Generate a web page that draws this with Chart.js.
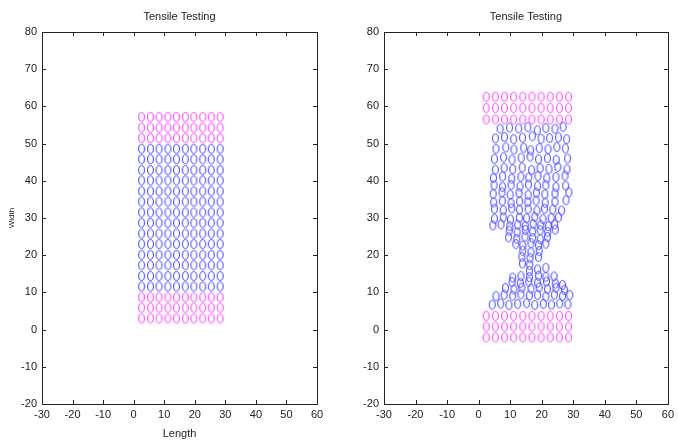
<!DOCTYPE html>
<html>
<head>
<meta charset="utf-8">
<script src="https://cdn.jsdelivr.net/npm/chart.js@4.4.0/dist/chart.umd.min.js"></script>
<style>
  body { margin: 0; background: #fff; }
  #wrap { position: relative; width: 678px; height: 441px; }
  canvas { position: absolute; top: 0; }
</style>
</head>
<body>
<div id="wrap">
  <canvas id="kiri" width="340" height="441" style="left:0"></canvas>
  <canvas id="kanan" width="338" height="441" style="left:340px"></canvas>
</div>
<script>
// ---- data ----
const xTicks = [-30, -20, -10, 0, 10, 20, 30, 40, 50, 60];
const yTicks = [-20, -10, 0, 10, 20, 30, 40, 50, 60, 70, 80];

// left plot: undeformed lattice
const kolom = [2.6, 5.5, 8.3, 11.2, 14.0, 16.9, 19.7, 22.6, 25.4, 28.3];
const barisMagenta = [3.0, 5.9, 8.7, 51.5, 54.3, 57.2];
const barisBiru = [11.6, 14.4, 17.3, 20.1, 23.0, 25.8, 28.7, 31.5, 34.4, 37.2, 40.1, 42.9, 45.8, 48.6];

// right plot: grips and deformed specimen
const kolomKanan = [2.4, 5.3, 8.2, 11.1, 14.0, 16.9, 19.8, 22.7, 25.6, 28.5];
const barisMagentaKanan = [-2.1, 0.8, 3.7, 56.5, 59.6, 62.6];
const biruX = [
  6.8, 9.8, 12.7, 15.6, 18.6, 21.3, 24.2, 26.8,
  5.3, 8.2, 11.1, 13.9, 17.0, 19.8, 22.5, 25.3, 27.9,
  5.5, 8.6, 11.2, 14.3, 16.5, 19.2, 22.0, 24.8, 27.5,
  5.0, 7.9, 10.6, 13.5, 16.3, 19.0, 21.8, 24.6, 28.2,
  5.3, 8.1, 10.8, 13.8, 16.8, 19.5, 22.3, 25.1, 28.0,
  4.7, 7.6, 10.5, 13.4, 15.9, 18.8, 21.6, 24.5, 27.4,
  4.9, 7.6, 10.3, 13.1, 15.8, 18.7, 21.3, 24.5, 27.6,
  4.6, 7.4, 10.0, 12.8, 15.7, 18.3, 21.0, 24.2, 28.6,
  4.8, 7.5, 10.3, 13.0, 15.6, 18.2, 21.1, 24.2, 27.7,
  5.0, 7.8, 10.5, 12.9, 15.7, 18.5, 20.9, 23.5, 26.3,
  5.0, 7.8, 10.1, 12.9, 15.2, 17.8, 20.4, 23.0, 25.3,
  4.5, 7.1, 9.9, 12.4, 14.8, 17.3, 19.7, 22.1, 24.1,
  9.7, 12.2, 14.8, 17.1, 19.5, 21.9, 24.3,
  9.5, 12.1, 14.7, 17.1, 19.5, 21.8,
  11.8, 14.0, 16.6, 19.0, 21.3,
  14.0, 16.6, 19.2,
  13.7, 16.3, 19.0,
  13.9, 16.2,
  16.1, 18.7, 21.3,
  10.8, 13.4, 16.1, 19.0, 21.3, 23.9,
  10.6, 13.2, 15.9, 18.7, 21.5, 24.3, 26.6,
  8.5, 11.2, 13.7, 16.6, 19.2, 21.8, 24.5, 27.2,
  5.5, 8.1, 10.8, 13.4, 16.1, 18.7, 21.3, 24.0, 26.6, 28.9,
  4.3, 7.0, 9.6, 12.4, 15.2, 17.8, 20.5, 23.1, 25.7, 28.3
];
const biruY = [
  54.0, 54.3, 54.1, 54.4, 53.6, 54.2, 54.0, 54.5,
  51.4, 51.8, 51.2, 51.6, 52.0, 51.3, 51.5, 51.7, 51.2,
  48.6, 49.0, 48.4, 48.9, 48.2, 48.8, 48.5, 49.1, 48.7,
  45.9, 46.3, 45.7, 46.2, 46.5, 45.8, 46.1, 45.6, 46.0,
  43.0, 43.5, 43.1, 43.6, 42.9, 43.4, 43.2, 43.7, 43.1,
  40.8, 41.2, 40.6, 41.1, 40.9, 41.3, 40.7, 41.0, 41.4,
  38.8, 38.4, 38.9, 38.5, 39.0, 38.6, 38.9, 38.3, 38.7,
  36.5, 36.9, 36.3, 36.7, 36.2, 36.8, 36.4, 36.6, 36.9,
  34.2, 34.6, 34.0, 34.5, 34.3, 34.7, 34.1, 34.4, 34.8,
  32.5, 32.1, 32.6, 32.2, 32.4, 32.0, 32.5, 32.3, 32.0,
  29.8, 30.2, 29.6, 30.1, 29.9, 30.3, 29.7, 30.0, 30.2,
  28.0, 28.3, 27.8, 28.2, 27.9, 28.4, 28.1, 27.8, 28.3,
  26.6, 26.2, 26.8, 26.4, 26.7, 26.3, 26.9,
  24.8, 24.4, 25.0, 24.6, 24.3, 24.9,
  23.0, 22.6, 23.2, 22.7, 23.1,
  21.2, 20.8, 21.1,
  19.6, 19.2, 19.5,
  17.8, 17.4,
  15.8, 16.2, 16.6,
  14.0, 14.4, 14.1, 14.5, 14.2, 14.3,
  12.8, 12.5, 12.9, 12.6, 12.9, 12.4, 12.0,
  11.2, 10.8, 11.3, 11.0, 11.4, 10.9, 11.2, 10.7,
  9.0, 9.4, 9.1, 9.5, 9.2, 9.3, 8.9, 9.4, 9.0, 9.3,
  6.7, 7.0, 6.6, 6.9, 7.1, 6.6, 6.9, 6.7, 7.0, 6.8
];

const MAGENTA = "#ff33ff";
const BIRU = "#3c3cff";
const FONT = "'Liberation Sans Narrow', 'Arial Narrow', 'Liberation Sans', Arial, sans-serif";

// ---- helpers ----
function grid(xs, ys) {
  const out = [];
  ys.forEach(y => xs.forEach(x => out.push({ x: x, y: y })));
  return out;
}

// oval "o" marker like matlab
function buatOval(warna) {
  const c = document.createElement("canvas");
  c.width = 9;
  c.height = 12;
  const g = c.getContext("2d");
  g.strokeStyle = warna;
  g.lineWidth = 1;
  g.beginPath();
  g.ellipse(4.5, 6, 2.9, 4.4, 0, 0, Math.PI * 2);
  g.stroke();
  return c;
}
const ovalMagenta = buatOval(MAGENTA);
const ovalBiru = buatOval(BIRU);

// box, inward ticks, titles
const bingkai = {
  id: "bingkai",
  afterDraw(chart, args, opts) {
    const { ctx, chartArea: a, scales } = chart;
    ctx.save();
    ctx.strokeStyle = "#222";
    ctx.lineWidth = 1;
    ctx.strokeRect(Math.round(a.left) + 0.5, Math.round(a.top) + 0.5,
                   Math.round(a.right - a.left), Math.round(a.bottom - a.top));
    ctx.beginPath();
    xTicks.forEach(v => {
      const px = Math.round(scales.x.getPixelForValue(v)) + 0.5;
      ctx.moveTo(px, a.bottom); ctx.lineTo(px, a.bottom - 4);
      ctx.moveTo(px, a.top); ctx.lineTo(px, a.top + 4);
    });
    yTicks.forEach(v => {
      const py = Math.round(scales.y.getPixelForValue(v)) + 0.5;
      ctx.moveTo(a.left, py); ctx.lineTo(a.left + 4, py);
      ctx.moveTo(a.right, py); ctx.lineTo(a.right - 4, py);
    });
    ctx.stroke();

    ctx.fillStyle = "#222";
    ctx.textAlign = "center";
    ctx.textBaseline = "middle";
    ctx.font = "11px " + FONT;
    ctx.fillText(opts.judul, (a.left + a.right) / 2, 17);
    if (opts.labelX) ctx.fillText(opts.labelX, (a.left + a.right) / 2, 434);
    if (opts.labelY) {
      ctx.font = "8px " + FONT;
      ctx.translate(12, (a.top + a.bottom) / 2);
      ctx.rotate(-Math.PI / 2);
      ctx.fillText(opts.labelY, 0, 0);
    }
    ctx.restore();
  }
};

function buatChart(id, datasets, lebarY, padKanan, plug) {
  const tickFont = { family: FONT, size: 11 };
  return new Chart(document.getElementById(id), {
    type: "scatter",
    data: { datasets: datasets },
    options: {
      responsive: false,
      animation: false,
      devicePixelRatio: 1,
      layout: { padding: { left: 0, right: padKanan, top: 32, bottom: 0 } },
      plugins: { legend: { display: false }, tooltip: { enabled: false }, bingkai: plug },
      scales: {
        x: {
          type: "linear", min: -30, max: 60,
          grid: { display: false, drawTicks: false }, border: { display: false },
          ticks: { stepSize: 10, font: tickFont, color: "#222", padding: 4, maxRotation: 0, autoSkip: false },
          afterFit: s => { s.height = 37; }
        },
        y: {
          type: "linear", min: -20, max: 80,
          grid: { display: false, drawTicks: false }, border: { display: false },
          ticks: { stepSize: 10, font: tickFont, color: "#222", padding: 5 },
          afterFit: s => { s.width = lebarY; }
        }
      }
    },
    plugins: [bingkai]
  });
}

function ds(data, oval) {
  return { data: data, pointStyle: oval, pointRadius: 5, showLine: false };
}

// left: before
buatChart("kiri", [
  ds(grid(kolom, barisBiru), ovalBiru),
  ds(grid(kolom, barisMagenta), ovalMagenta)
], 42, 23, { judul: "Tensile Testing", labelX: "Length", labelY: "Width" });

// right: after
const biruKanan = biruX.map((x, i) => ({ x: x, y: biruY[i] }));
buatChart("kanan", [
  ds(biruKanan, ovalBiru),
  ds(grid(kolomKanan, barisMagentaKanan), ovalMagenta)
], 44, 8, { judul: "Tensile Testing" });
</script>
</body>
</html>
